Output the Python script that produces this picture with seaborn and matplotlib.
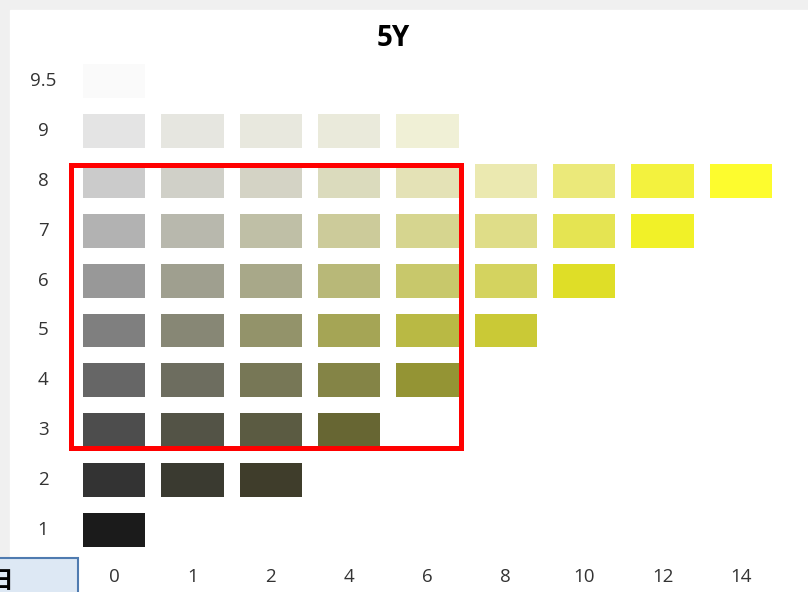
import numpy as np
import pandas as pd
import seaborn as sns
import matplotlib.pyplot as plt
from matplotlib.colors import ListedColormap
from matplotlib.patches import Rectangle

# ====================== DATA ======================
# Munsell value (rows, top to bottom) and chroma (columns)
VALUES = ["9.5", "9", "8", "7", "6", "5", "4", "3", "2", "1"]
CHROMAS = ["0", "1", "2", "4", "6", "8", "10", "12", "14"]

# chip colours per value row, from chroma 0 upward
chips_9_5 = ["#fafafa"]
chips_9 = ["#e4e4e4", "#e6e6e0", "#e8e8de", "#eaeadb", "#f0f0d6"]
chips_8 = ["#cbcbcb", "#d0d0c8", "#d4d3c5", "#dbdbbd", "#e4e2b6",
           "#ebe9b0", "#ebe97a", "#f3f23e", "#fdfc2e"]
chips_7 = ["#b2b2b2", "#b8b8ad", "#bfbfa6", "#cccb9a", "#d6d58f",
           "#dfdd88", "#e5e452", "#f1f128"]
chips_6 = ["#989898", "#9f9f8f", "#a8a889", "#b8b878", "#c8c86b",
           "#d4d35f", "#dfde27"]
chips_5 = ["#7f7f7f", "#878775", "#93936a", "#a5a555", "#b9b944",
           "#cac936"]
chips_4 = ["#666666", "#6d6d5f", "#777756", "#848446", "#949434"]
chips_3 = ["#4d4d4d", "#535346", "#5b5b42", "#676633"]
chips_2 = ["#333333", "#3a3a30", "#3f3d2b"]
chips_1 = ["#1b1b1b"]

ROWS = [chips_9_5, chips_9, chips_8, chips_7, chips_6,
        chips_5, chips_4, chips_3, chips_2, chips_1]

FONT = ["Open Sans", "DejaVu Sans"]


def draw_chart():
    # 1. Build code matrix + palette (one colour per chip)
    codes = np.full((len(VALUES), len(CHROMAS)), np.nan)
    palette = []
    for r, row in enumerate(ROWS):
        for c, col in enumerate(row):
            codes[r, c] = len(palette)
            palette.append(col)
    df = pd.DataFrame(codes, index=VALUES, columns=CHROMAS)

    # 2. Figure with grey frame and white panel
    fig = plt.figure(figsize=(8.08, 5.92), dpi=100, facecolor="#f0f0f0")
    fig.patches.append(Rectangle((10 / 808, 0), 798 / 808, 582 / 592,
                                 transform=fig.transFigure, color="white", zorder=-1))
    ax = fig.add_axes([75 / 808, 1 - 555 / 592, 705 / 808, 499 / 592])

    # 3. Chips as heatmap cells, white gaps between them
    sns.heatmap(df, cmap=ListedColormap(palette), vmin=-0.5, vmax=len(palette) - 0.5,
                linewidths=11.2, linecolor="white", cbar=False,
                xticklabels=True, yticklabels=True, ax=ax)

    ax.tick_params(length=0)
    ax.tick_params(axis="y", pad=23)
    ax.tick_params(axis="x", pad=9)
    for t in ax.get_yticklabels():
        t.set_rotation(0)
        t.set_ha("center")
        t.set_fontsize(13.5)
        t.set_family(FONT)
        t.set_color("#333333")
    for t in ax.get_xticklabels():
        t.set_rotation(0)
        t.set_fontsize(13.5)
        t.set_family(FONT)
        t.set_color("#333333")
    ax.set_xlabel("")
    ax.set_ylabel("")

    # 4. Title
    fig.text(393 / 808, 1 - 38 / 592, "5Y", ha="center", va="center",
             fontsize=20, fontweight="bold", family=FONT, color="black")

    # 5. Red highlight box (chroma 0-6, value 3-8)
    ax.add_patch(Rectangle((-0.045, 2.18), 4.975, 5.68, fill=False,
                           ec="red", lw=3.6, clip_on=False, zorder=5))

    # 6. Leftover UI box at bottom-left
    fig.patches.append(Rectangle((-2 / 808, -2 / 592), 80 / 808, 36 / 592,
                                 transform=fig.transFigure, fc="#dde8f4",
                                 ec="#4f7bb0", lw=1.5, zorder=6))
    fig.text(13 / 808, 1 - 569 / 592, "日", ha="right", va="top", fontsize=17,
             fontweight="bold", family=["Noto Sans CJK JP", "DejaVu Sans"],
             color="black", zorder=7)

    fig.savefig("out.png", dpi=100, facecolor=fig.get_facecolor())


if __name__ == "__main__":
    draw_chart()
